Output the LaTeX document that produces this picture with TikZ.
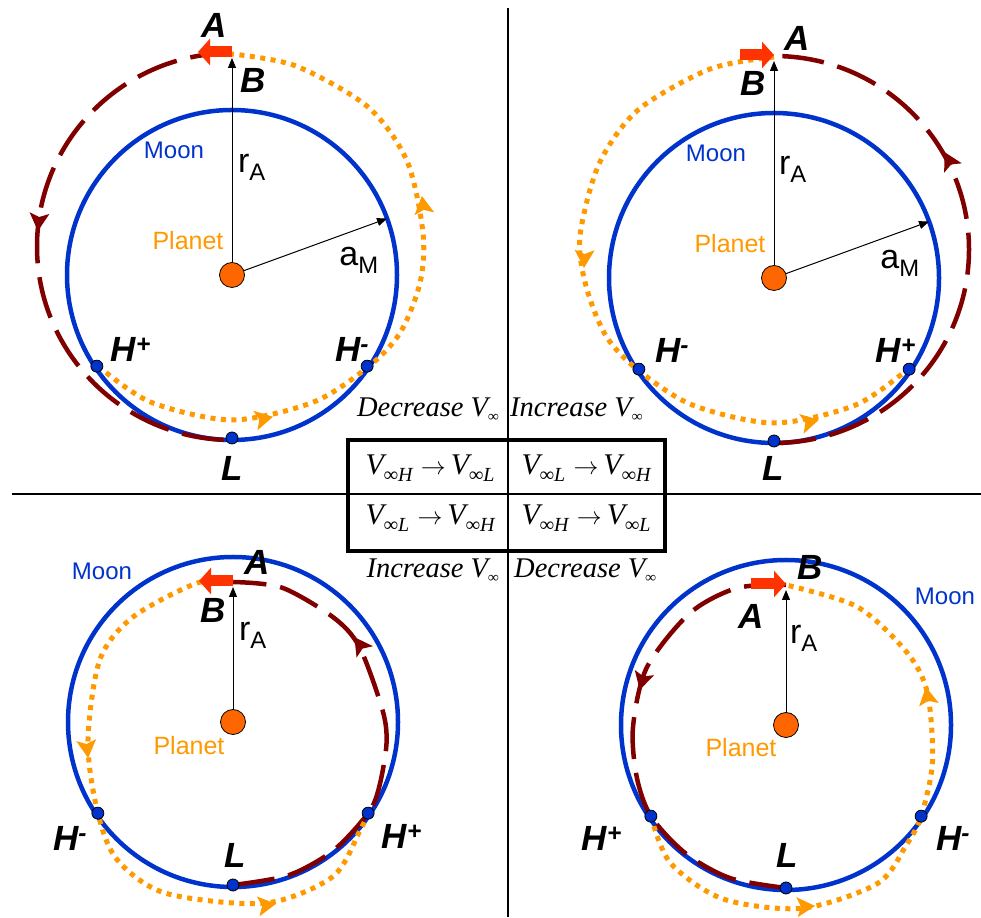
\documentclass[tikz,border=0pt]{standalone}
\usepackage{fontspec}
\setmainfont{Liberation Sans}
\newfontfamily\timesfont{Liberation Serif}
\usetikzlibrary{arrows.meta}

\definecolor{moonblue}{RGB}{0,51,204}
\definecolor{orbitred}{RGB}{128,0,0}
\definecolor{dotorange}{RGB}{255,153,0}
\definecolor{planetorange}{RGB}{255,102,0}
\definecolor{burnred}{RGB}{255,51,0}

% V infinity with a small lowered subscript: size, drop, index
\newcommand{\Vinf}[3]{V\raisebox{-#2}{\fontsize{#1}{#1}\selectfont ∞#3}}

\tikzset{
  moonorbit/.style={draw=moonblue,line width=4.5pt},
  redorbit/.style={draw=orbitred,line width=4.5pt,dash pattern=on 42pt off 14pt},
  dotorbit/.style={draw=dotorange,line width=5pt,dash pattern=on 5pt off 5.5pt},
  % arrow head sitting on an orbit, tip at the origin
  pics/head/.style={code={\fill (1pt,0) -- (-17pt,10pt) -- (-13pt,0) -- (-17pt,-10pt) -- cycle;}},
  planetdot/.style={circle,draw=black,line width=0.8pt,fill=planetorange,
      minimum size=25pt,inner sep=0pt},
  hitdot/.style={circle,draw=black,line width=0.8pt,fill=moonblue,
      minimum size=12pt,inner sep=0pt},
  burn/.style={draw=burnred,line width=11pt,-{Triangle[length=12pt,width=26pt]}},
  radiusline/.style={draw=black,line width=1pt,-{Triangle[length=10pt,width=8pt]}},
  ptlabel/.style={inner sep=0pt,font=\fontsize{35}{35}\selectfont\bfseries\itshape},
  sizelabel/.style={inner sep=0pt,font=\fontsize{34}{34}\selectfont},
  moonlabel/.style={inner sep=0pt,text=moonblue,font=\fontsize{24}{24}\selectfont},
  planetlabel/.style={inner sep=0pt,text=dotorange,font=\fontsize{25}{25}\selectfont},
  vlabel/.style={inner sep=0pt,font=\timesfont\itshape\fontsize{28.5}{28.5}\selectfont},
  vcell/.style={inner sep=0pt,font=\timesfont\itshape\fontsize{30}{30}\selectfont},
}

\begin{document}
\begin{tikzpicture}[x=1pt,y=1pt]
\useasboundingbox (0,0) rectangle (981,917);

% quadrant lines
\draw[line width=1.3pt] (508,909) -- (508,0);
\draw[line width=1.3pt] (12,423) -- (981,423);

% table in the middle
\node[draw,line width=3.5pt,minimum width=317pt,minimum height=111pt] (vtable) at (506.5,421.5) {};
\node[vcell,anchor=base] (cell-hl) at (430,442) {\Vinf{20}{7pt}{H}\;$\rightarrow$\,\Vinf{20}{7pt}{L}};
\node[vcell,anchor=base] (cell-lh) at (586,442) {\Vinf{20}{7pt}{L}\;$\rightarrow$\,\Vinf{20}{7pt}{H}};
\node[vcell,anchor=base] (cell-lh2) at (430,392) {\Vinf{20}{7pt}{L}\;$\rightarrow$\,\Vinf{20}{7pt}{H}};
\node[vcell,anchor=base] (cell-hl2) at (586,392) {\Vinf{20}{7pt}{H}\;$\rightarrow$\,\Vinf{20}{7pt}{L}};
\node[vlabel,anchor=base east] (dec-top) at (499,500) {Decrease \Vinf{15}{5pt}{}};
\node[vlabel,anchor=base west] (inc-top) at (510,500) {Increase \Vinf{15}{5pt}{}};
\node[vlabel,anchor=base east] (inc-bot) at (499,339) {Increase \Vinf{15}{5pt}{}};
\node[vlabel,anchor=base west] (dec-bot) at (514,339) {Decrease \Vinf{15}{5pt}{}};

% upper left
\begin{scope}[shift={(232,642)}]
  \draw[moonorbit] (0,0) circle[radius=165];
  \draw[redorbit] (0,222) arc[start angle=90,end angle=270,x radius=195,y radius=193.5];
  \draw[dotorbit] plot[smooth] coordinates {(-134,-91) (-81.6,-127) (0,-145) (81.6,-127) (136,-92) (168,-58) (188,-8) (191,42) (175,114) (136,168) (64,209) (0,221)};
  \pic[orbitred,rotate=265] at (-194,45) {head};
  \pic[dotorange,rotate=12] at (40,-142) {head};
  \pic[dotorange,rotate=98] at (190,78) {head};
  \node[hitdot] (tl-hp) at (214:163) {};
  \node[hitdot] (tl-hm) at (326:163) {};
  \node[hitdot] (tl-l) at (270:163) {};
  \node[planetdot] (tl-planet) at (0,0) {};
  \coordinate (tl-a) at (0,217);
  \coordinate (tl-burn0) at (0,223);
  \coordinate (tl-burn1) at (-34,223);
  \coordinate (tl-am) at (20:165);
  \draw[burn] (tl-burn0) -- (tl-burn1);
  \draw[radiusline] (tl-planet) -- (tl-a);
  \draw[radiusline] (tl-planet) -- (tl-am);
  \node[ptlabel] (tl-alab) at (-18,250) {A};
  \node[ptlabel] (tl-blab) at (21,195) {B};
  \node[sizelabel] (tl-ra) at (20,108) {r\textsubscript{A}};
  \node[sizelabel] (tl-aml) at (127,15) {a\textsubscript{M}};
  \node[moonlabel] (tl-moon) at (-58,125) {Moon};
  \node[planetlabel] (tl-plab) at (-44,34) {Planet};
  \node[ptlabel] (tl-hplab) at (-101,-74) {H\textsuperscript{+}};
  \node[ptlabel] (tl-hmlab) at (120,-74) {H\textsuperscript{-}};
  \node[ptlabel] (tl-llab) at (0,-193) {L};
\end{scope}

% upper right
\begin{scope}[shift={(774,639)}]
  \draw[moonorbit] (0,0) circle[radius=165];
  \draw[redorbit] (0,-165) arc[start angle=-90,end angle=90,x radius=195,y radius=193.5];
  \draw[dotorbit] plot[smooth] coordinates {(0,221) (-64,209) (-136,168) (-175,114) (-194,42) (-188,-8) (-168,-58) (-136,-92) (-81.6,-127) (0,-145) (81.6,-127) (134,-91)};
  \pic[orbitred,rotate=118] at (171,125) {head};
  \pic[dotorange,rotate=268] at (-190,11) {head};
  \pic[dotorange,rotate=13] at (44,-142) {head};
  \node[hitdot] (tr-hm) at (214:163) {};
  \node[hitdot] (tr-hp) at (326:163) {};
  \node[hitdot] (tr-l) at (270:163) {};
  \node[planetdot] (tr-planet) at (0,0) {};
  \coordinate (tr-a) at (0,217);
  \coordinate (tr-burn0) at (-34,223);
  \coordinate (tr-burn1) at (0,223);
  \coordinate (tr-am) at (20:165);
  \draw[burn] (tr-burn0) -- (tr-burn1);
  \draw[radiusline] (tr-planet) -- (tr-a);
  \draw[radiusline] (tr-planet) -- (tr-am);
  \node[ptlabel] (tr-alab) at (23,240) {A};
  \node[ptlabel] (tr-blab) at (-21,195) {B};
  \node[sizelabel] (tr-ra) at (19,109) {r\textsubscript{A}};
  \node[sizelabel] (tr-aml) at (126,15) {a\textsubscript{M}};
  \node[moonlabel] (tr-moon) at (-58,125) {Moon};
  \node[planetlabel] (tr-plab) at (-44,34) {Planet};
  \node[ptlabel] (tr-hmlab) at (-102,-72) {H\textsuperscript{-}};
  \node[ptlabel] (tr-hplab) at (122,-72) {H\textsuperscript{+}};
  \node[ptlabel] (tr-llab) at (-1,-190) {L};
\end{scope}

% lower left
\begin{scope}[shift={(233,195)}]
  \draw[moonorbit] (0,0) circle[radius=165];
  \draw[redorbit] plot[smooth] coordinates {(270:163) (290:163) (308:163) (326:163) (336:160) (352:155) (4.6:150) (30.6:147) (46:145) (70:143) (90:140)};
  \draw[dotorbit] plot[smooth] coordinates {(90:140) (104.5:143.5) (133.6:145) (155:147) (188:146.5) (214:163) (230:180) (248.6:184) (280:184) (302.8:184) (319.6:167) (326:163)};
  \pic[orbitred,rotate=125] at (122,84) {head};
  \pic[dotorange,rotate=276] at (-145,-35) {head};
  \pic[dotorange,rotate=8] at (42,-182) {head};
  \node[hitdot] (bl-hm) at (214:163) {};
  \node[hitdot] (bl-hp) at (326:163) {};
  \node[hitdot] (bl-l) at (270:163) {};
  \node[planetdot] (bl-planet) at (0,0) {};
  \coordinate (bl-a) at (0,135);
  \coordinate (bl-burn0) at (0,141);
  \coordinate (bl-burn1) at (-34,141);
  \draw[burn] (bl-burn0) -- (bl-burn1);
  \draw[radiusline] (bl-planet) -- (bl-a);
  \node[ptlabel] (bl-alab) at (24,160) {A};
  \node[ptlabel] (bl-blab) at (-20,112) {B};
  \node[sizelabel] (bl-ra) at (20,87) {r\textsubscript{A}};
  \node[moonlabel] (bl-moon) at (-131,151) {Moon};
  \node[planetlabel] (bl-plab) at (-44,-24) {Planet};
  \node[ptlabel] (bl-hmlab) at (-163,-116) {H\textsuperscript{-}};
  \node[ptlabel] (bl-hplab) at (169,-114) {H\textsuperscript{+}};
  \node[ptlabel] (bl-llab) at (2,-133) {L};
\end{scope}

% lower right
\begin{scope}[shift={(786,192)}]
  \draw[moonorbit] (0,0) circle[radius=165];
  \draw[redorbit] plot[smooth] coordinates {(90:140) (109.7:145.5) (130.6:147.5) (157.4:150.6) (180.7:153) (199:158) (214:163) (232:163) (250:163) (270:163)};
  \draw[dotorbit] plot[smooth] coordinates {(214:163) (230:180) (250:185) (275:184) (300:183) (315:170) (326:163) (346:151) (13:145) (31:141) (59:138) (90:140)};
  \pic[orbitred,rotate=255] at (-146,36) {head};
  \pic[dotorange,rotate=4] at (28,-181) {head};
  \pic[dotorange,rotate=100] at (140,37) {head};
  \node[hitdot] (br-hp) at (214:163) {};
  \node[hitdot] (br-hm) at (326:163) {};
  \node[hitdot] (br-l) at (270:163) {};
  \node[planetdot] (br-planet) at (0,0) {};
  \coordinate (br-a) at (0,135);
  \coordinate (br-burn0) at (-35,141);
  \coordinate (br-burn1) at (0,141);
  \draw[burn] (br-burn0) -- (br-burn1);
  \draw[radiusline] (br-planet) -- (br-a);
  \node[ptlabel] (br-blab) at (24,158) {B};
  \node[ptlabel] (br-alab) at (-35,109) {A};
  \node[sizelabel] (br-ra) at (18,87) {r\textsubscript{A}};
  \node[moonlabel] (br-moon) at (159,129) {Moon};
  \node[planetlabel] (br-plab) at (-45,-23) {Planet};
  \node[ptlabel] (br-hplab) at (-184,-113) {H\textsuperscript{+}};
  \node[ptlabel] (br-hmlab) at (167,-113) {H\textsuperscript{-}};
  \node[ptlabel] (br-llab) at (1,-130) {L};
\end{scope}
\end{tikzpicture}
\end{document}
